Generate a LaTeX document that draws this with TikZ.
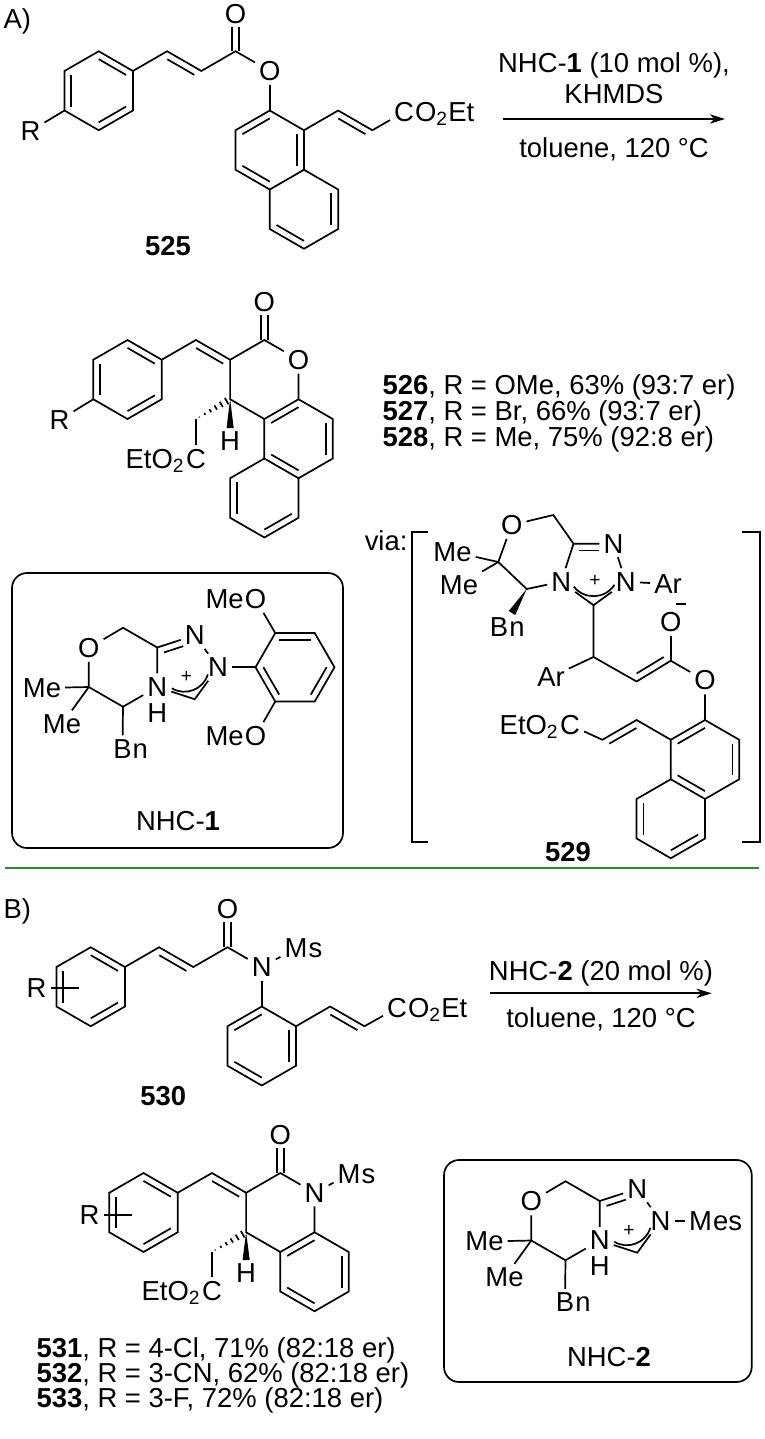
\documentclass[tikz,border=0pt]{standalone}
\usepackage{fontspec}
\setmainfont{Liberation Sans}
\usetikzlibrary{calc,arrows.meta}
\definecolor{sepgreen}{RGB}{40,140,40}

% pointy-top hexagon: 1 top, 2 UR, 3 LR, 4 bottom, 5 LL, 6 UL
\newcommand\hexP[3]{%
  \coordinate (#1c) at (#2,#3);
  \coordinate (#11) at (#2,#3-39.5);
  \coordinate (#12) at (#2+34.21,#3-19.75);
  \coordinate (#13) at (#2+34.21,#3+19.75);
  \coordinate (#14) at (#2,#3+39.5);
  \coordinate (#15) at (#2-34.21,#3+19.75);
  \coordinate (#16) at (#2-34.21,#3-19.75);}
% flat-top hexagon: 1 left, 2 UL, 3 UR, 4 right, 5 LR, 6 LL
\newcommand\hexF[3]{%
  \coordinate (#1c) at (#2,#3);
  \coordinate (#11) at (#2-39.5,#3);
  \coordinate (#12) at (#2-19.75,#3-34.21);
  \coordinate (#13) at (#2+19.75,#3-34.21);
  \coordinate (#14) at (#2+39.5,#3);
  \coordinate (#15) at (#2+19.75,#3+34.21);
  \coordinate (#16) at (#2-19.75,#3+34.21);}
\newcommand\inn[3]{\draw[bnd] ($(#1)!0.2!(#3)$) -- ($(#2)!0.2!(#3)$);}
\newcommand\dblcw[2]{\draw[bnd,shorten <=1.5pt,shorten >=1.5pt] ($(#1)!2.5pt!-90:(#2)$) -- ($(#2)!2.5pt!90:(#1)$);}
\newcommand\dblccw[2]{\draw[bnd,shorten <=1.5pt,shorten >=1.5pt] ($(#1)!2.5pt!90:(#2)$) -- ($(#2)!2.5pt!-90:(#1)$);}
\newcommand\codbl[2]{%
  \draw[bnd,shorten >=4.6pt] ($(#1)!1.25pt!90:(#2)$) -- ($(#2)!1.25pt!-90:(#1)$);
  \draw[bnd,shorten >=4.6pt] ($(#1)!1.25pt!-90:(#2)$) -- ($(#2)!1.25pt!90:(#1)$);}
\newcommand\hashw[2]{\foreach \hs in {0.1,0.26,0.42,0.58,0.74,0.9}{%
  \draw[line width=0.6pt] ($(#1)!\hs!(#2)!{\hs*1.5pt}!90:(#2)$) -- ($(#1)!\hs!(#2)!{\hs*1.5pt}!-90:(#2)$);}}
\newcommand\bwedge[3]{\fill (#1) -- ($(#2)!#3!90:(#1)$) -- ($(#2)!#3!-90:(#1)$) -- cycle;}

\newcommand\nhccore[2]{%
 \coordinate (hcT) at (184.39+#1,667.25+#2);
 \coordinate (hcCH2) at (123+#1,627.75+#2);
 \coordinate (hcC3a) at (157.21+#1,647.5+#2);
 \coordinate (hcCH) at (123+#1,706.75+#2);
 \coordinate (hcCq) at (88.79+#1,687+#2);
 \coordinate (hcC5) at (194.77+#1,699.21+#2);
 \node[lab] (hcO) at (88.79+#1,648+#2) {O};
 \node[lab] (hcN4) at (157.21+#1,687+#2) {N};
 \node[lab] (hcH) at (157.21+#1,713+#2) {H};
 \node[lab] (hcN1) at (194.77+#1,635.29+#2) {N};
 \node[lab] (hcN2) at (217.99+#1,667.25+#2) {N};
 \node[lab] (hcMe1) at (42+#1,688+#2) {Me};
 \node[lab] (hcMe2) at (62+#1,724+#2) {Me};
 \node[lab] (hcB) at (122.5+#1,749+#2) {B};
 \node[lbr,anchor=base west] at ([xshift=-1.3pt]hcB.base east) {n};
 \draw[bnd] (hcO)--(hcCH2)--(hcC3a)--(hcN4)--(hcCH)--(hcCq)--(hcO);
 \draw[bnd] (hcC3a)--(hcN1)--(hcN2)--(hcC5)--(hcN4);
 \draw[bnd,shorten >=3.4pt] ($(hcC3a)!0.25!(hcT)$) -- ($(hcN1)!0.25!(hcT)$);
 \draw[bnd] (hcCq)--(hcMe1);
 \draw[bnd] (hcCq)--(hcMe2);
 \draw[bnd] (hcCH)--(hcB);
 \draw[bnd] ($(hcT)+(121:24.5)$) .. controls ($(hcT)+(88:29.2)$) and ($(hcT)+(50:29.2)$) .. ($(hcT)+(17:24.5)$);
 \node[lbr,font=\fontsize{7pt}{8pt}\selectfont] at ($(hcT)+(2,10)$) {+};
}

\begin{document}
\begin{tikzpicture}[x=0.3646pt,y=-0.3646pt,
  font=\fontsize{10pt}{12pt}\selectfont,
  bnd/.style={line width=0.62pt},
  lab/.style={inner sep=1.3pt},
  lbr/.style={inner sep=0pt}]
\useasboundingbox (0,0) rectangle (764,1439);

% ================= A) =================
\node[lbr,anchor=base west] (lblA) at (3,28) {A)};

% ---- 525 ----
\hexP{a}{98.7}{90.75}
\draw[bnd] (a1)--(a2)--(a3)--(a4)--(a5)--(a6)--cycle;
\inn{a1}{a2}{ac}\inn{a3}{a4}{ac}\inn{a5}{a6}{ac}
\node[lab] (R1) at (30.5,131) {R};
\draw[bnd] (a5) -- (R1);
\coordinate (v1) at (167.12,51.25);
\coordinate (v2) at (201.33,71);
\coordinate (v3) at (235.54,51.25);
\node[lab] (Oc1) at (235.54,14) {O};
\node[lab] (Oe1) at (269.75,71) {O};
\draw[bnd] (a2)--(v1)--(v2)--(v3)--(Oe1);
\dblcw{v1}{v2}
\codbl{v3}{Oc1}
\hexP{b}{269.75}{150}
\hexP{c}{303.96}{209.25}
\draw[bnd] (Oe1) -- (b1);
\draw[bnd] (b1)--(b2)--(b3)--(b4)--(b5)--(b6)--cycle;
\draw[bnd] (c1)--(c2)--(c3)--(c4)--(c5)--(c6);
\inn{b1}{b6}{bc}\inn{b2}{b3}{bc}\inn{b4}{b5}{bc}
\inn{c2}{c3}{cc}\inn{c4}{c5}{cc}
\coordinate (w1a) at (338.17,110.5);
\coordinate (w2a) at (372.38,130.25);
\node[lab] (CA) at (404,112) {C};
\node[lbr,anchor=base west] at ([xshift=-1.3pt]CA.base east) {O\textsubscript{2}Et};
\draw[bnd] (b2)--(w1a)--(w2a)--(CA);
\dblcw{w1a}{w2a}
\node[lbr,font=\bfseries,anchor=base] (n525) at (168,255) {525};

% ---- arrow A ----
\coordinate (arA1) at (503,119);
\coordinate (arA2) at (725,119);
\draw[bnd,-{Stealth[length=5.5pt,width=3.4pt,inset=1.6pt]}] (arA1) -- (arA2);
\node[lbr,anchor=base] (tA1) at (614,72) {NHC-\textbf{1} (10 mol \%),};
\node[lbr,anchor=base] (tA2) at (614,103) {KHMDS};
\node[lbr,anchor=base] (tA3) at (614,157) {toluene, 120 °C};

% ---- 526 ----
\hexP{d}{127.5}{379.5}
\draw[bnd] (d1)--(d2)--(d3)--(d4)--(d5)--(d6)--cycle;
\inn{d1}{d2}{dc}\inn{d3}{d4}{dc}\inn{d5}{d6}{dc}
\node[lab] (R2) at (59.5,420) {R};
\draw[bnd] (d5) -- (R2);
\coordinate (e1) at (195.92,340);
\coordinate (e2) at (230.13,359.75);
\coordinate (e3) at (264.34,340);
\coordinate (e4) at (230.13,399.25);
\node[lab] (Oc2) at (264.34,302) {O};
\node[lab] (Or2) at (298.55,359.75) {O};
\hexP{f}{298.55}{438.75}
\hexP{g}{264.34}{498}
\draw[bnd] (d2)--(e1)--(e2)--(e3)--(Or2)--(f1);
\draw[bnd] (f6)--(e4)--(e2);
\dblcw{e1}{e2}
\codbl{e3}{Oc2}
\draw[bnd] (f1)--(f2)--(f3)--(f4)--(f5)--(f6)--cycle;
\draw[bnd] (g2)--(g3)--(g4)--(g5)--(g6)--(g1);
\inn{f1}{f6}{fc}\inn{f2}{f3}{fc}\inn{f4}{f5}{fc}
\inn{g3}{g4}{gc}\inn{g5}{g6}{gc}
\node[lab] (H1) at (230.13,441) {H};
\coordinate (wd1) at (230.13,428);
\bwedge{e4}{wd1}{1.3pt}
\coordinate (hh1) at (195.92,419);
\hashw{hh1}{e4}
\node[lab] (CB) at (196,459) {C};
\node[lbr,anchor=base east] at ([xshift=1.3pt]CB.base west) {EtO\textsubscript{2}};
\draw[bnd] (hh1)--(CB);

\node[lbr,anchor=base west] (t526) at (382,394) {\textbf{526}, R = OMe, 63\% (93:7 er)};
\node[lbr,anchor=base west] (t527) at (382,420) {\textbf{527}, R = Br, 66\% (93:7 er)};
\node[lbr,anchor=base west] (t528) at (382,446) {\textbf{528}, R = Me, 75\% (92:8 er)};

% ---- NHC-1 box ----
\draw[bnd,rounded corners=5.5pt] (12,573) rectangle (343,848);
\nhccore{0}{0}
\hexF{p}{295}{667.25}
\draw[bnd] (p1)--(p2)--(p3)--(p4)--(p5)--(p6)--cycle;
\inn{p2}{p3}{pc}\inn{p4}{p5}{pc}\inn{p6}{p1}{pc}
\draw[bnd] (hcN2)--(p1);
\node[lab] (OM1) at (255.5,599) {O};
\node[lbr,anchor=base east] at ([xshift=1.3pt]OM1.base west) {Me};
\node[lab] (OM2) at (255.5,736) {O};
\node[lbr,anchor=base east] at ([xshift=1.3pt]OM2.base west) {Me};
\draw[bnd] (p2)--(OM1);
\draw[bnd] (p6)--(OM2);
\node[lbr,anchor=base] (lblN1) at (178,830) {NHC-\textbf{1}};

% ---- 529 ----
\node[lbr,anchor=base east] (via) at (408,550) {via:};
\coordinate (brL1) at (428,531.7); \coordinate (brL2) at (412,531.7);
\coordinate (brL3) at (412,842); \coordinate (brL4) at (428,842);
\coordinate (brR1) at (741.7,531.7); \coordinate (brR2) at (760,531.7);
\coordinate (brR3) at (760,842); \coordinate (brR4) at (741.7,842);
\draw[bnd] (brL1)--(brL2)--(brL3)--(brL4);
\draw[bnd] (brR1)--(brR2)--(brR3)--(brR4);
\coordinate (kT) at (593.5,571.2);
\node[lab] (kO) at (511.7,525) {O};
\coordinate (k1) at (553.3,515);
\coordinate (k2) at (573.52,543.69);
\node[lab] (kN1) at (613.48,543.69) {N};
\node[lab] (kN2) at (625.84,581.71) {N};
\coordinate (kC5) at (593.5,605.2);
\node[lab] (kN4) at (561.16,581.71) {N};
\coordinate (k4) at (526.7,589);
\coordinate (k5) at (498.3,562);
\node[lab] (kMe1) at (452.5,551.7) {Me};
\node[lab] (kMe2) at (459,585) {Me};
\node[lab] (kB) at (499,626.7) {B};
\node[lbr,anchor=base west] at ([xshift=-1.3pt]kB.base east) {n};
\coordinate (kw) at (512,613);
\draw[bnd] (kO)--(k1)--(k2)--(kN4)--(k4)--(k5)--(kO);
\draw[bnd] (k2)--(kN1)--(kN2)--(kC5)--(kN4);
\draw[bnd,shorten >=3.4pt] ($(k2)!0.25!(kT)$) -- ($(kN1)!0.25!(kT)$);
\draw[bnd] (k5)--(kMe1);
\draw[bnd] (k5)--(kMe2);
\bwedge{k4}{kw}{1.4pt}
\draw[bnd] ($(kT)+(142:25)$) .. controls ($(kT)+(107.5:30.3)$) and ($(kT)+(67.5:30.3)$) .. ($(kT)+(33:25)$);
\node[lbr,font=\fontsize{7pt}{8pt}\selectfont] at ($(kT)+(1.5,10)$) {+};
\node[lab] (kAr2) at (668,584) {Ar};
\draw[bnd] (kN2)--(kAr2);
\coordinate (k6) at (593.5,657);
\node[lab] (kAr1) at (551,677) {Ar};
\coordinate (k7) at (636.6,681.5);
\coordinate (k8) at (670.79,660.75);
\node[lab] (kOm) at (670.79,622) {O};
\node[lab] (kOe) at (705,680.5) {O};
\coordinate (km1) at (676,604); \coordinate (km2) at (686,604);
\draw[bnd] (km1)--(km2);
\hexP{n}{705}{759.5}
\hexP{o}{670.79}{818.75}
\draw[bnd] (kC5)--(k6)--(k7)--(k8)--(kOe)--(n1);
\draw[bnd] (k6)--(kAr1);
\draw[bnd] (k8)--(kOm);
\dblccw{k7}{k8}
\draw[bnd] (n1)--(n2)--(n3)--(n4)--(n5)--(n6)--cycle;
\draw[bnd] (o2)--(o3)--(o4)--(o5)--(o6)--(o1);
\inn{n1}{n6}{nc}\inn{n2}{n3}{nc}\inn{n4}{n5}{nc}
\inn{o3}{o4}{oc}\inn{o5}{o6}{oc}
\coordinate (q1) at (636.58,720);
\coordinate (q2) at (602.37,739.75);
\node[lab] (CK) at (570,725) {C};
\node[lbr,anchor=base east] at ([xshift=1.3pt]CK.base west) {EtO\textsubscript{2}};
\draw[bnd] (n6)--(q1)--(q2)--(CK);
\dblccw{q1}{q2}
\node[lbr,font=\bfseries,anchor=base] (n529) at (568,861) {529};

% ---- separator ----
\coordinate (sepL) at (5,868); \coordinate (sepR) at (759,868);
\draw[line width=0.55pt,sepgreen] (sepL)--(sepR);

% ================= B) =================
\node[lbr,anchor=base west] (lblB) at (3,918) {B)};

% ---- 530 ----
\hexP{r}{90.7}{986.75}
\draw[bnd] (r1)--(r2)--(r3)--(r4)--(r5)--(r6)--cycle;
\inn{r1}{r2}{rc}\inn{r3}{r4}{rc}\inn{r5}{r6}{rc}
\node[lab] (R3) at (36.5,988) {R};
\coordinate (rR) at (78.5,988);
\draw[bnd] (R3)--(rR);
\coordinate (s1) at (159.12,947.25);
\coordinate (s2) at (193.33,967);
\coordinate (s3) at (227.54,947.25);
\node[lab] (Oc3) at (227.54,909) {O};
\node[lab] (N3) at (261.75,967) {N};
\node[lab] (M3) at (296,948.5) {M};
\node[lbr,anchor=base west] at ([xshift=-1.3pt]M3.base east) {s};
\draw[bnd] (r2)--(s1)--(s2)--(s3)--(N3)--(M3);
\dblcw{s1}{s2}
\codbl{s3}{Oc3}
\hexP{t}{261.75}{1046}
\draw[bnd] (N3)--(t1);
\draw[bnd] (t1)--(t2)--(t3)--(t4)--(t5)--(t6)--cycle;
\inn{t1}{t6}{tc}\inn{t2}{t3}{tc}\inn{t4}{t5}{tc}
\coordinate (u1) at (330.17,1006.5);
\coordinate (u2) at (364.38,1026.25);
\node[lab] (CC3) at (397,1008) {C};
\node[lbr,anchor=base west] at ([xshift=-1.3pt]CC3.base east) {O\textsubscript{2}Et};
\draw[bnd] (t2)--(u1)--(u2)--(CC3);
\dblcw{u1}{u2}
\node[lbr,font=\bfseries,anchor=base] (n530) at (163.3,1105) {530};

% ---- arrow B ----
\coordinate (arB1) at (490,993.3);
\coordinate (arB2) at (711.7,993.3);
\draw[bnd,-{Stealth[length=5.5pt,width=3.4pt,inset=1.6pt]}] (arB1) -- (arB2);
\node[lbr,anchor=base] (tB1) at (601,980) {NHC-\textbf{2} (20 mol \%)};
\node[lbr,anchor=base] (tB2) at (601,1027) {toluene, 120 °C};

% ---- 531 ----
\hexP{w}{143.5}{1212.5}
\draw[bnd] (w1)--(w2)--(w3)--(w4)--(w5)--(w6)--cycle;
\inn{w1}{w2}{wc}\inn{w3}{w4}{wc}\inn{w5}{w6}{wc}
\node[lab] (R4) at (89.5,1215) {R};
\coordinate (wR) at (131.5,1215);
\draw[bnd] (R4)--(wR);
\coordinate (x1) at (211.92,1173);
\coordinate (x2) at (246.13,1192.75);
\coordinate (x3) at (280.34,1173);
\coordinate (x4) at (246.13,1232.25);
\node[lab] (Oc4) at (280.34,1135) {O};
\node[lab] (N4b) at (314.55,1192.75) {N};
\node[lab] (M4) at (349,1174.5) {M};
\node[lbr,anchor=base west] at ([xshift=-1.3pt]M4.base east) {s};
\hexP{y}{314.55}{1271.75}
\draw[bnd] (w2)--(x1)--(x2)--(x3)--(N4b)--(y1);
\draw[bnd] (N4b)--(M4);
\draw[bnd] (y6)--(x4)--(x2);
\dblcw{x1}{x2}
\codbl{x3}{Oc4}
\draw[bnd] (y1)--(y2)--(y3)--(y4)--(y5)--(y6)--cycle;
\inn{y1}{y6}{yc}\inn{y2}{y3}{yc}\inn{y4}{y5}{yc}
\node[lab] (H4) at (246.13,1273) {H};
\coordinate (wd4) at (246.13,1260);
\bwedge{x4}{wd4}{1.3pt}
\coordinate (z1) at (211.92,1252);
\hashw{z1}{x4}
\node[lab] (CC4) at (212,1291) {C};
\node[lbr,anchor=base east] at ([xshift=1.3pt]CC4.base west) {EtO\textsubscript{2}};
\draw[bnd] (z1)--(CC4);

\node[lbr,anchor=base west] (t531) at (36,1357) {\textbf{531}, R = 4-Cl, 71\% (82:18 er)};
\node[lbr,anchor=base west] (t532) at (36,1382) {\textbf{532}, R = 3-CN, 62\% (82:18 er)};
\node[lbr,anchor=base west] (t533) at (36,1407) {\textbf{533}, R = 3-F, 72\% (82:18 er)};

% ---- NHC-2 box ----
\draw[bnd,rounded corners=5.5pt] (444,1160) rectangle (751.7,1382);
\nhccore{442.5}{553.5}
\node[lab] (mesM) at (700.5,1220.75) {M};
\node[lbr,anchor=base west] at ([xshift=-1.3pt]mesM.base east) {es};
\draw[bnd] (hcN2)--(mesM);
\node[lbr,anchor=base] (lblN2) at (609,1366) {NHC-\textbf{2}};

\end{tikzpicture}
\end{document}
